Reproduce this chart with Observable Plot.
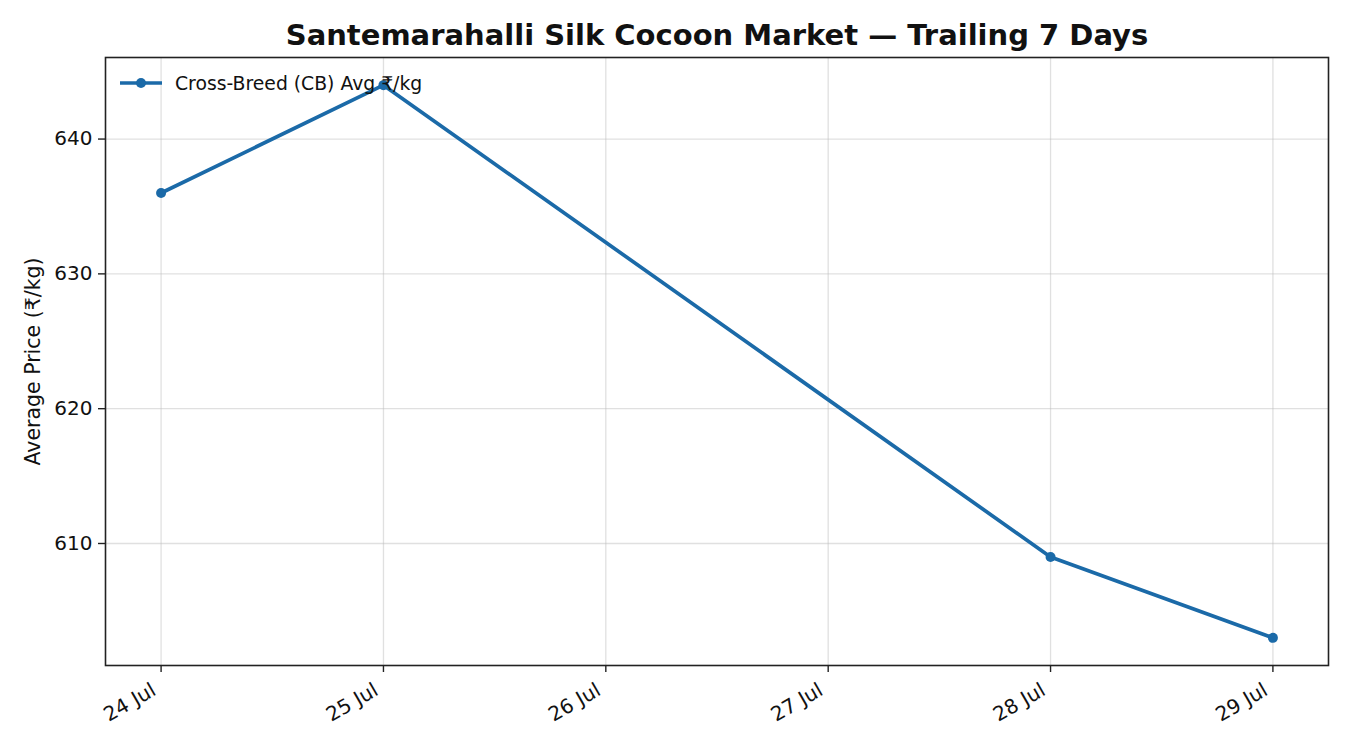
<!DOCTYPE html>
<html>
<head>
<meta charset="utf-8">
<script src="https://cdn.jsdelivr.net/npm/d3@7"></script>
<script src="https://cdn.jsdelivr.net/npm/@observablehq/plot@0.6"></script>
<style>
  html, body { margin: 0; padding: 0; background: #fff; }
  #wrap { position: relative; width: 1350px; height: 750px; font-family: "DejaVu Sans", sans-serif; }
  #legend { position: absolute; left: 120px; top: 72px; height: 22px; display: flex; align-items: center; font-size: 18.8px; color: #111; }
  #legend svg { margin-right: 13px; }
</style>
</head>
<body>
<div id="wrap">
  <div id="legend">
    <svg width="42" height="12"><line x1="0" y1="6" x2="42" y2="6" stroke="#1b6aa8" stroke-width="3.6"/><circle cx="21" cy="6" r="5" fill="#1b6aa8"/></svg>
    <span>Cross-Breed (CB) Avg ₹/kg</span>
  </div>
</div>
<script>
const dates = ["2025-07-24", "2025-07-25", "2025-07-28", "2025-07-29"];
const prices = [636, 644, 609, 603];
const tickDays = ["2025-07-24", "2025-07-25", "2025-07-26", "2025-07-27", "2025-07-28", "2025-07-29"];
const yTicks = [610, 620, 630, 640];
const titleText = "Santemarahalli Silk Cocoon Market — Trailing 7 Days";
const yLabel = "Average Price (₹/kg)";
const color = "#1b6aa8";

const data = dates.map((d, i) => ({date: new Date(d + "T00:00:00Z"), price: prices[i]}));
const ticks = tickDays.map(d => new Date(d + "T00:00:00Z"));
const x0 = ticks[0].getTime(), x1 = ticks[ticks.length - 1].getTime();
const xPad = (x1 - x0) * 0.05;
const yMin = d3.min(prices), yMax = d3.max(prices), yPad = (yMax - yMin) * 0.05;
const months = ["Jan","Feb","Mar","Apr","May","Jun","Jul","Aug","Sep","Oct","Nov","Dec"];
const fmt = d => `${d.getUTCDate()} ${months[d.getUTCMonth()]}`;

const chart = Plot.plot({
  width: 1350,
  height: 750,
  marginLeft: 105,
  marginRight: 22,
  marginTop: 57,
  marginBottom: 85,
  style: {fontFamily: "DejaVu Sans, sans-serif", fontSize: "20px", background: "transparent", color: "#111"},
  x: {type: "utc", domain: [new Date(x0 - xPad), new Date(x1 + xPad)]},
  y: {domain: [yMin - yPad, yMax + yPad]},
  marks: [
    Plot.gridX(ticks, {stroke: "#bbb", strokeOpacity: 0.45, strokeWidth: 1.3}),
    Plot.gridY(yTicks, {stroke: "#bbb", strokeOpacity: 0.45, strokeWidth: 1.3}),
    Plot.frame({stroke: "#222", strokeWidth: 1.6}),
    Plot.line(data, {x: "date", y: "price", stroke: color, strokeWidth: 3.7}),
    Plot.dot(data, {x: "date", y: "price", fill: color, r: 5}),
    Plot.axisX({ticks: ticks, tickSize: 7, tickFormat: () => "", label: null, stroke: "#222", strokeWidth: 1.4}),
    Plot.axisX({ticks: ticks, tickSize: 0, tickPadding: 23, dx: -7, tickRotate: -30, fontSize: 20, tickFormat: fmt, label: null}),
    Plot.axisY({ticks: yTicks, tickSize: 7, tickPadding: 6, fontSize: 20, label: null, stroke: "#222", strokeWidth: 1.4}),
    Plot.text([yLabel], {frameAnchor: "left", textAnchor: "middle", dx: -72, rotate: -90, fontSize: 20.5, fill: "#111"}),
    Plot.text([titleText], {frameAnchor: "top", dy: -33, fontSize: 29, fontWeight: "bold", fill: "#111"})
  ]
});
document.getElementById("wrap").prepend(chart);
</script>
</body>
</html>
